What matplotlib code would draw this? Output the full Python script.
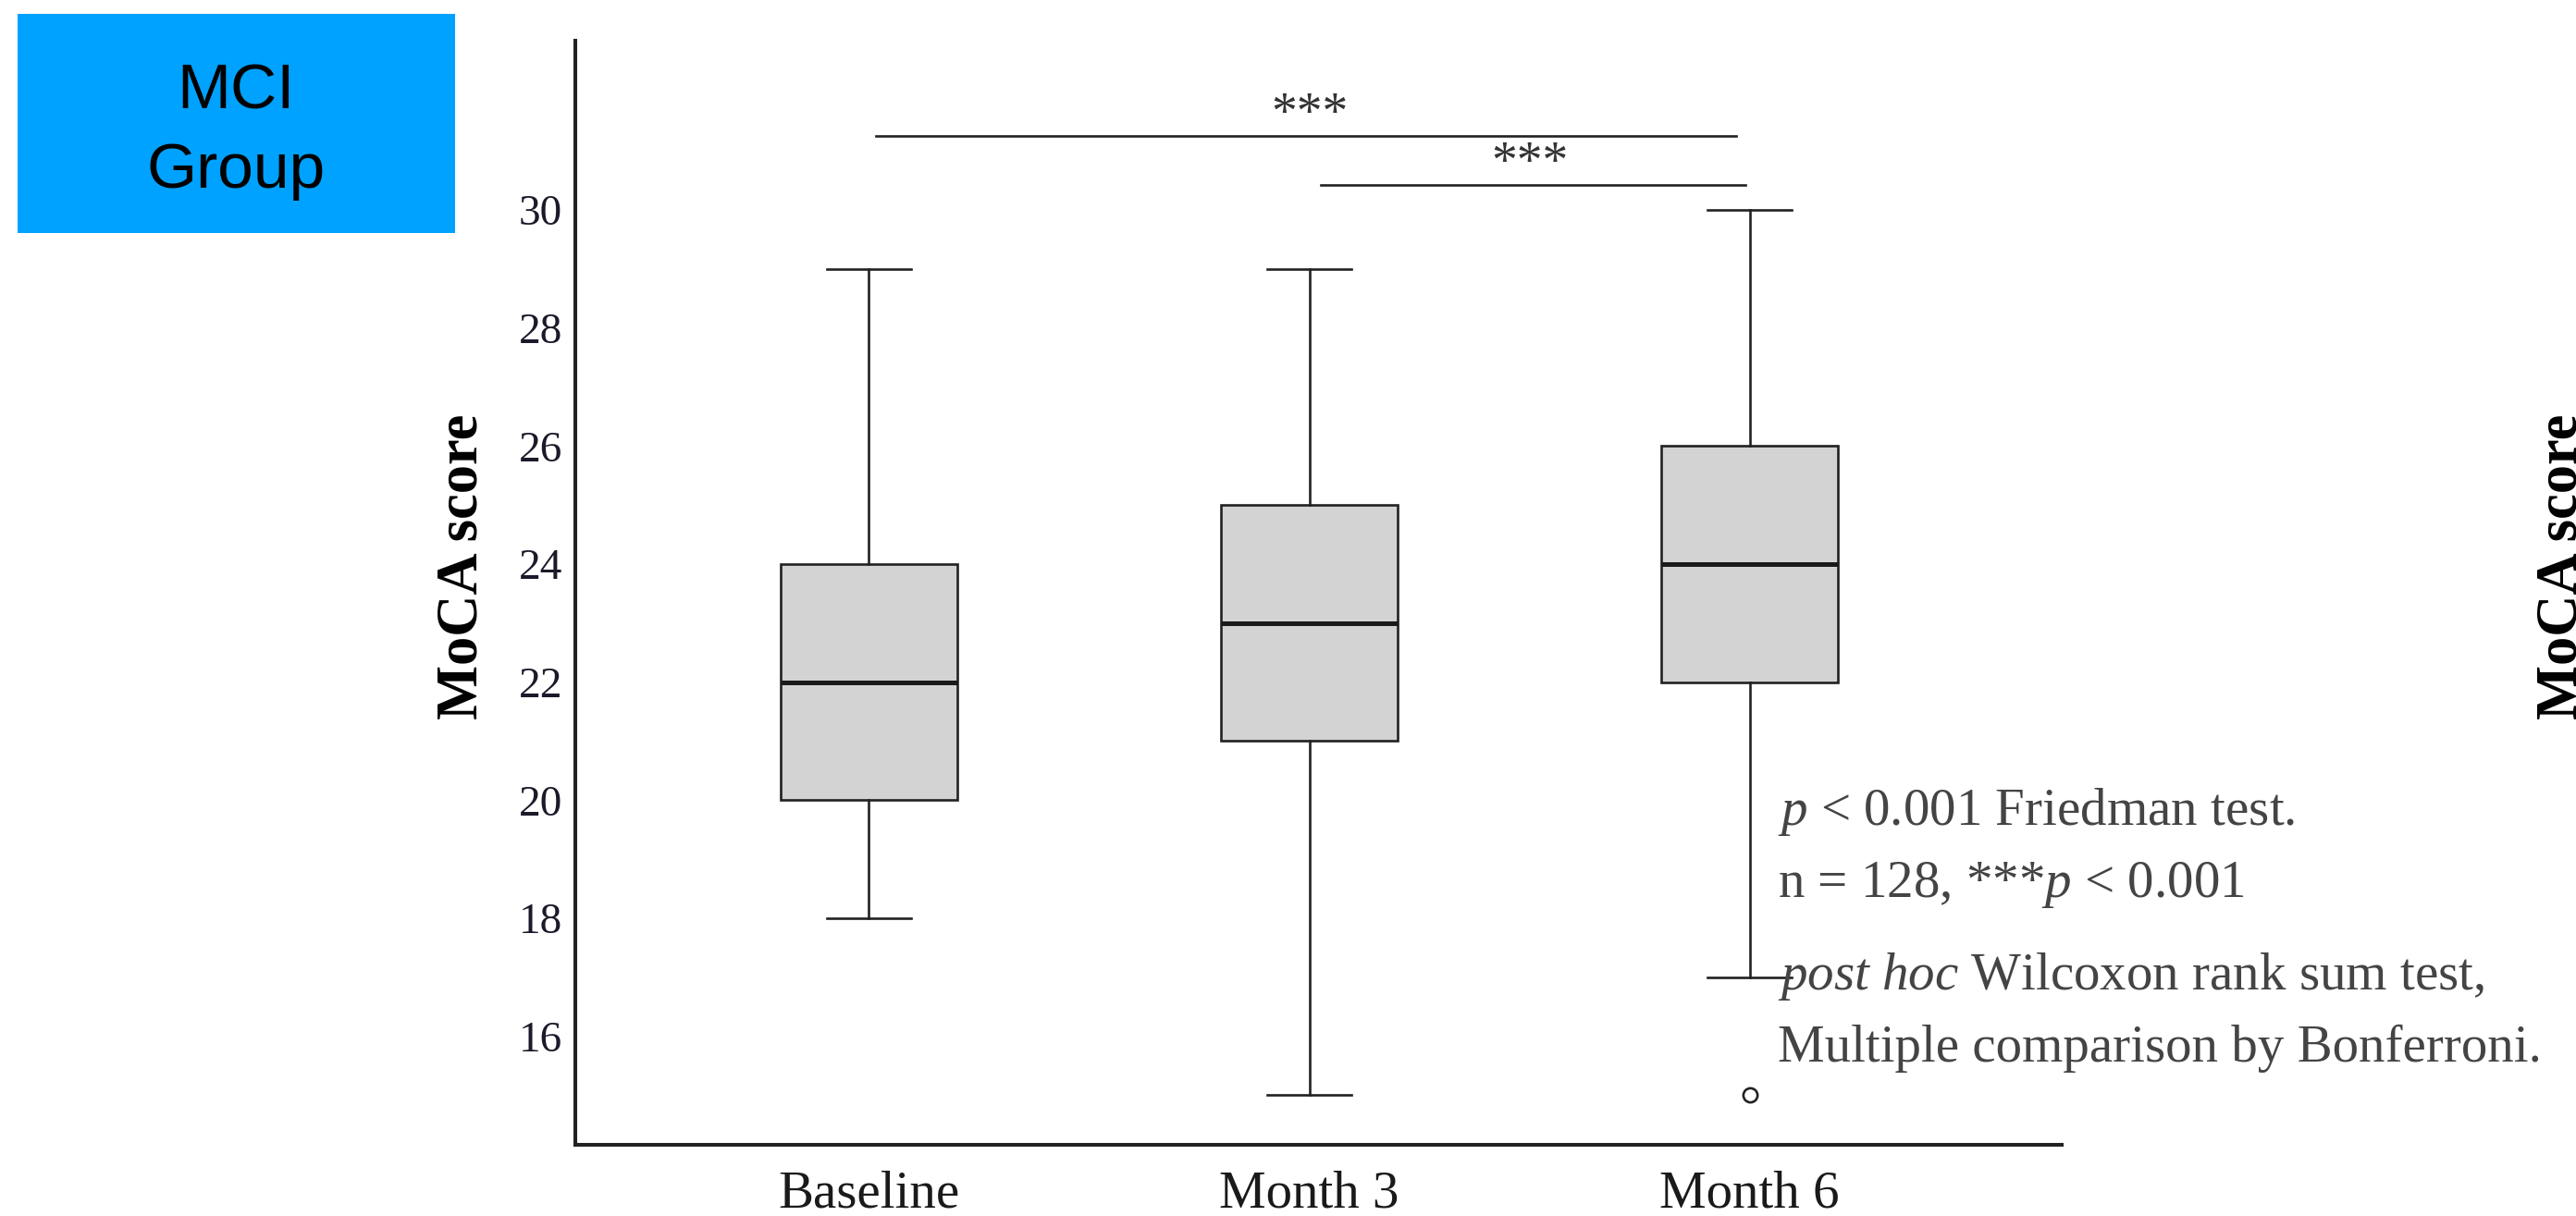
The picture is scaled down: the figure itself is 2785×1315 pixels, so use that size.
import matplotlib
matplotlib.use("Agg")
import matplotlib.pyplot as plt
from matplotlib.patches import Rectangle

# ---- data ----
categories = ["Baseline", "Month 3", "Month 6"]
q1 = [20, 21, 22]
median = [22, 23, 24]
q3 = [24, 25, 26]
whisker_low = [18, 15, 17]
whisker_high = [29, 29, 30]
outliers = [[], [], [15]]
yticks = [16, 18, 20, 22, 24, 26, 28, 30]
sig_pairs = [(0, 2), (1, 2)]
sig_levels = [31.25, 30.42]
sig_labels = ["***", "***"]
note_lines = [r"$p$ < 0.001 Friedman test.",
              r"n = 128, ***$p$ < 0.001",
              r"$post\ hoc$ Wilcoxon rank sum test,",
              r"Multiple comparison by Bonferroni."]
group_lines = ["MCI", "Group"]

plt.rcParams['mathtext.fontset'] = 'custom'
plt.rcParams['mathtext.rm'] = 'Liberation Serif'
plt.rcParams['mathtext.it'] = 'Liberation Serif:italic'
plt.rcParams['mathtext.bf'] = 'Liberation Serif:bold'

W, H = 2785, 1315
fig = plt.figure(figsize=(W / 100, H / 100), dpi=100)
ax = fig.add_axes([622 / W, 1 - 1238 / H, (2229 - 622) / W, (1238 - 44) / H])

positions = [i + 1 for i in range(len(categories))]
stats = []
for i, c in enumerate(categories):
    stats.append(dict(label=c, med=median[i], q1=q1[i], q3=q3[i],
                      whislo=whisker_low[i], whishi=whisker_high[i],
                      fliers=outliers[i]))

edge = "#222222"
ax.bxp(stats, positions=positions, widths=0.4, capwidths=0.19,
       patch_artist=True,
       boxprops=dict(facecolor="#D3D3D3", edgecolor=edge, linewidth=1.9),
       medianprops=dict(color="#1a1a1a", linewidth=3.6),
       whiskerprops=dict(color=edge, linewidth=1.9),
       capprops=dict(color=edge, linewidth=1.9),
       flierprops=dict(marker="o", markersize=11, markerfacecolor="white",
                       markeredgecolor=edge, markeredgewidth=1.9))

ax.set_xlim(0.333, 3.709)
ax.set_ylim(14.16, 32.87)
ax.set_yticks(yticks)
ax.set_yticklabels([str(t) for t in yticks], family="Liberation Serif",
                   fontsize=34, color="#1a1a2a")
ax.set_xticks(positions)
ax.set_xticklabels(categories, family="Liberation Serif", fontsize=41,
                   color="#1a1a1a")
ax.tick_params(axis="y", length=0, pad=10)
ax.tick_params(axis="x", length=0, pad=20)
for s in ["top", "right"]:
    ax.spines[s].set_visible(False)
for s in ["left", "bottom"]:
    ax.spines[s].set_linewidth(2.9)
    ax.spines[s].set_color("#222222")

# significance brackets
offs = [(0.015, -0.03), (0.026, -0.01)]
for (a, b), lvl, lab, (o1, o2) in zip(sig_pairs, sig_levels, sig_labels, offs):
    xa, xb = positions[a] + o1, positions[b] + o2
    ax.plot([xa, xb], [lvl, lvl], color="#222222", lw=1.9, clip_on=False)
    ax.text((positions[a] + positions[b]) / 2, lvl + 0.13, lab,
            ha="center", va="baseline", family="Liberation Serif",
            fontsize=40, color="#333333", clip_on=False)

# y label
fig.text(500 / W, 1 - 613 / H, "MoCA score", rotation=90, ha="center",
         va="center", family="Liberation Serif", fontweight="bold",
         fontsize=45, color="black")
# cut-off label at right edge (as in the reference)
fig.text(2742 / W, 1 - 613 / H, "MoCA score", rotation=90, ha="left",
         va="center", family="Liberation Serif", fontweight="bold",
         fontsize=45, color="black")

# notes
note_y = [892, 970, 1070, 1148]
for t, y in zip(note_lines, note_y):
    fig.text(1922 / W, 1 - y / H, t, ha="left", va="baseline",
             family="Liberation Serif", fontsize=41, color="#444444")

# MCI Group label box
fig.patches.append(Rectangle((19 / W, 1 - 252 / H), 473 / W, 237 / H,
                             transform=fig.transFigure, facecolor="#00A2FF",
                             edgecolor="none"))
for t, y in zip(group_lines, [118, 203]):
    fig.text(255 / W, 1 - y / H, t, ha="center", va="baseline",
             family="Liberation Sans", fontsize=50, color="black")

fig.savefig("out.png", dpi=100)
